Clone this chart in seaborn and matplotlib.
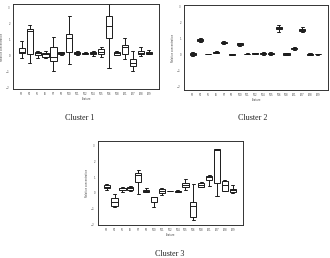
import numpy as np
import pandas as pd
import matplotlib
matplotlib.use("Agg")
import matplotlib.pyplot as plt
import seaborn as sns

sns.set_theme(style="white")

features = ["F3", "F4", "F5", "F6", "F7", "F8", "F10", "F11", "F12",
            "F14", "F15", "F16", "F18", "F21", "F27", "F28", "F29"]

# five-number summaries (min, q1, median, q3, max) per feature
cluster1 = [
    [-0.20, 0.10, 0.20, 0.42, 0.90],
    [-0.52, 0.04, 1.52, 1.60, 1.88],
    [-0.20, -0.02, 0.10, 0.17, 0.27],
    [-0.20, -0.10, 0.04, 0.15, 0.23],
    [-0.98, -0.35, -0.10, 0.48, 1.10],
    [0.00, 0.04, 0.10, 0.17, 0.20],
    [-0.58, 0.20, 1.08, 1.30, 2.45],
    [-0.02, 0.04, 0.10, 0.17, 0.27],
    [0.04, 0.06, 0.10, 0.15, 0.19],
    [-0.06, 0.04, 0.15, 0.19, 0.27],
    [-0.15, 0.04, 0.20, 0.35, 0.52],
    [-0.83, 1.04, 1.81, 2.44, 3.19],
    [-0.02, -0.02, 0.10, 0.17, 0.25],
    [-0.27, 0.04, 0.52, 0.63, 1.04],
    [-1.00, -0.69, -0.52, -0.27, 0.27],
    [-0.06, 0.04, 0.10, 0.27, 0.52],
    [0.04, 0.06, 0.15, 0.21, 0.31],
]
cluster2 = [
    [-0.06, 0.02, 0.08, 0.14, 0.20],
    [0.81, 0.88, 0.92, 0.97, 1.06],
    [0.05, 0.06, 0.06, 0.06, 0.07],
    [0.11, 0.14, 0.17, 0.20, 0.23],
    [0.68, 0.72, 0.75, 0.79, 0.85],
    [0.00, 0.02, 0.04, 0.06, 0.08],
    [0.58, 0.63, 0.67, 0.72, 0.77],
    [0.03, 0.05, 0.06, 0.07, 0.09],
    [0.06, 0.08, 0.10, 0.12, 0.14],
    [0.02, 0.06, 0.10, 0.14, 0.18],
    [-0.02, 0.03, 0.08, 0.13, 0.18],
    [1.46, 1.60, 1.67, 1.75, 1.88],
    [-0.02, 0.02, 0.06, 0.10, 0.14],
    [0.30, 0.36, 0.40, 0.45, 0.50],
    [1.46, 1.50, 1.58, 1.60, 1.77],
    [0.00, 0.02, 0.04, 0.06, 0.09],
    [0.02, 0.03, 0.04, 0.05, 0.06],
]
cluster3 = [
    [0.17, 0.28, 0.38, 0.49, 0.57],
    [-0.89, -0.83, -0.62, -0.32, -0.10],
    [0.06, 0.15, 0.28, 0.32, 0.36],
    [0.10, 0.17, 0.28, 0.36, 0.43],
    [-0.10, 0.66, 1.15, 1.23, 1.45],
    [0.02, 0.06, 0.10, 0.17, 0.28],
    [-0.91, -0.62, -0.28, -0.26, -0.26],
    [-0.15, -0.04, 0.10, 0.23, 0.32],
    [0.12, 0.13, 0.13, 0.13, 0.14],
    [0.02, 0.06, 0.10, 0.13, 0.17],
    [0.17, 0.38, 0.49, 0.64, 0.85],
    [-1.74, -1.53, -0.85, -0.57, 0.57],
    [0.36, 0.36, 0.49, 0.62, 0.70],
    [0.43, 0.79, 1.00, 1.09, 1.13],
    [-0.21, 0.60, 2.74, 2.79, 2.79],
    [0.10, 0.13, 0.47, 0.74, 0.81],
    [0.00, 0.02, 0.15, 0.21, 0.49],
]

clusters = {"Cluster 1": cluster1, "Cluster 2": cluster2, "Cluster 3": cluster3}
rows = []
for name, summ in clusters.items():
    for feat, vals in zip(features, summ):
        for v in vals:
            rows.append((name, feat, v))
df = pd.DataFrame(rows, columns=["cluster", "feature", "value"])

fig = plt.figure(figsize=(3.3, 2.58), dpi=100)
W, H = 330, 258
boxes = {  # left, right, top, bottom in pixels
    "Cluster 1": (13, 159, 4, 89),
    "Cluster 2": (184, 328, 5, 90),
    "Cluster 3": (98, 243, 141, 225),
}
ylims = {"Cluster 1": (-2.125, 3.19), "Cluster 2": (-2.2, 3.12), "Cluster 3": (-2.06, 3.3)}
captions = {"Cluster 1": (80, 118), "Cluster 2": (253, 118), "Cluster 3": (170, 254)}

for name, (l, r, t, b) in boxes.items():
    ax = fig.add_axes([l / W, 1 - b / H, (r - l) / W, (b - t) / H])
    sns.boxplot(data=df[df.cluster == name], x="feature", y="value", order=features,
                whis=(0, 100), width=0.78, color="white", linecolor="#1a1a1a",
                linewidth=0.7, ax=ax)
    ax.set_xlim(-1.1, 17.3)
    ax.set_ylim(*ylims[name])
    ax.set_yticks([-2, -1, 0, 1, 2, 3])
    ax.tick_params(axis="both", labelsize=1.8, length=1.2, width=0.4, pad=1, colors="#444444")
    ax.set_xlabel("Feature", fontsize=1.8, labelpad=1, color="#444444")
    ax.set_ylabel("Relative concentration", fontsize=1.8, labelpad=1.5, color="#444444")
    for s in ax.spines.values():
        s.set_color("#333333")
        s.set_linewidth(0.7)
    cx, cy = captions[name]
    fig.text(cx / W, 1 - cy / H, name, ha="center", va="center",
             fontsize=5.8, family="Liberation Serif", color="#222222")

fig.savefig("out.png", dpi=100)
